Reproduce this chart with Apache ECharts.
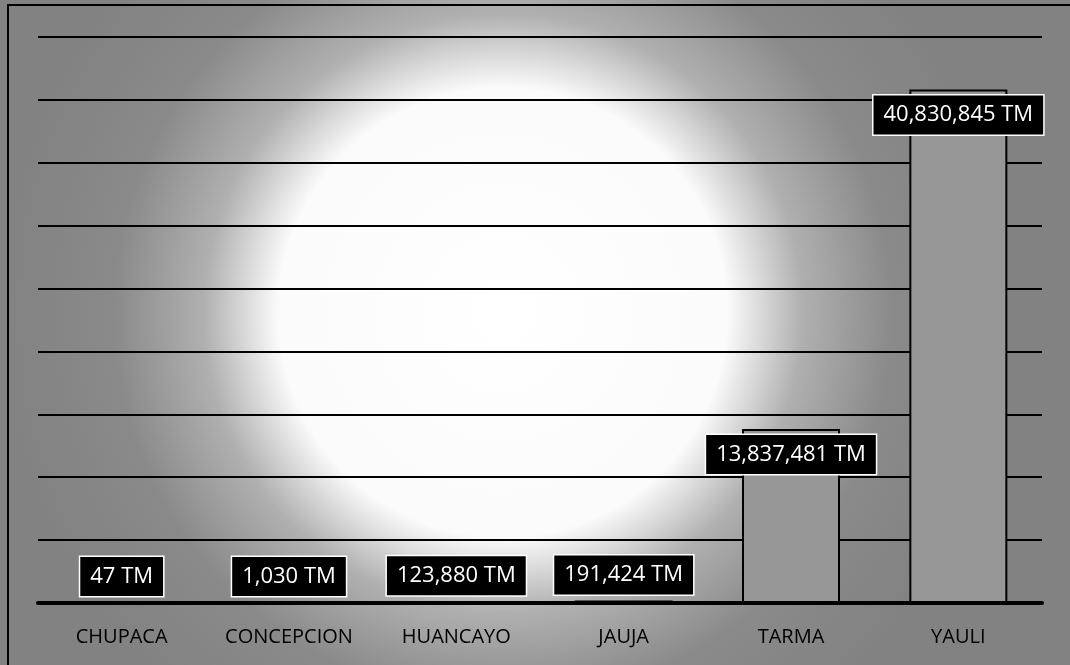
<!DOCTYPE html>
<html>
<head>
<meta charset="utf-8">
<script src="https://cdn.jsdelivr.net/npm/echarts@6/dist/echarts.min.js"></script>
<style>
html,body{margin:0;padding:0;background:#fff;}
#prodChart{width:1070px;height:665px;}
</style>
</head>
<body>
<div id="prodChart"></div>
<script>
// =====================================
// Producción por provincia (TM)
// =====================================

// -------------------------------------
// datos
// -------------------------------------

const provincias = ["CHUPACA","CONCEPCION","HUANCAYO","JAUJA","TARMA","YAULI"];

const toneladas = [47,1030,123880,191424,13837481,40830845];

// eje Y: 0 .. 45 millones, cada 5 millones
const yMax = 45000000;
const yStep = 5000000;

(function () {

const dom = document.getElementById("prodChart");
if (!dom) return;

const chart = echarts.init(dom);

// -------------------------------------
// etiquetas de valor
// -------------------------------------

const fmt = v => v.toLocaleString("en-US") + " TM";

const barData = toneladas.map(v => ({
value: v,
label: {
position: v > yMax / 10 ? "insideTop" : "top",
distance: 6
}
}));

// -------------------------------------
// option
// -------------------------------------

const option = {

backgroundColor: "#ffffff",

animation: false,

graphic: [

{
type: "rect",
z: -10,
silent: true,
shape: { x: 0, y: 0, width: 1070, height: 665 },
style: {
fill: {
type: "radial",
x: 0.47,
y: 0.47,
r: 0.75,
colorStops: [
{ offset: 0, color: "#ffffff" },
{ offset: 0.45, color: "#fbfbfb" },
{ offset: 0.6, color: "#b0b0b0" },
{ offset: 0.78, color: "#8a8a8a" },
{ offset: 1, color: "#828282" }
]
}
}
},

{
type: "rect",
z: 10,
silent: true,
shape: { x: 8, y: 5, width: 1100, height: 700 },
style: { fill: "none", stroke: "#000", lineWidth: 2 }
}

],

grid: {
left: 38,
right: 28,
top: 37,
bottom: 62
},

xAxis: {
type: "category",
data: provincias,
axisLine: {
show: true,
lineStyle: { color: "#000", width: 4 }
},
axisTick: { show: false },
axisLabel: {
color: "#000",
fontFamily: "Open Sans",
fontSize: 20,
margin: 24
}
},

yAxis: {
type: "value",
min: 0,
max: yMax,
interval: yStep,
axisLine: { show: false },
axisTick: { show: false },
axisLabel: { show: false },
splitLine: {
show: true,
lineStyle: { color: "#000", width: 2 }
}
},

series: [

{
type: "bar",

barWidth: 98,

itemStyle: {
color: "#979797",
borderColor: "#000",
borderWidth: 2
},

label: {
show: true,
formatter: p => fmt(p.value),
color: "#fff",
fontFamily: "Open Sans",
fontSize: 22,
lineHeight: 23,
backgroundColor: "#000",
borderColor: "#fff",
borderWidth: 1.5,
padding: [8, 10, 8, 10]
},

data: barData
}

]

};

chart.setOption(option);

window.addEventListener(
"resize",
() => chart.resize()
);

})();
</script>
</body>
</html>
